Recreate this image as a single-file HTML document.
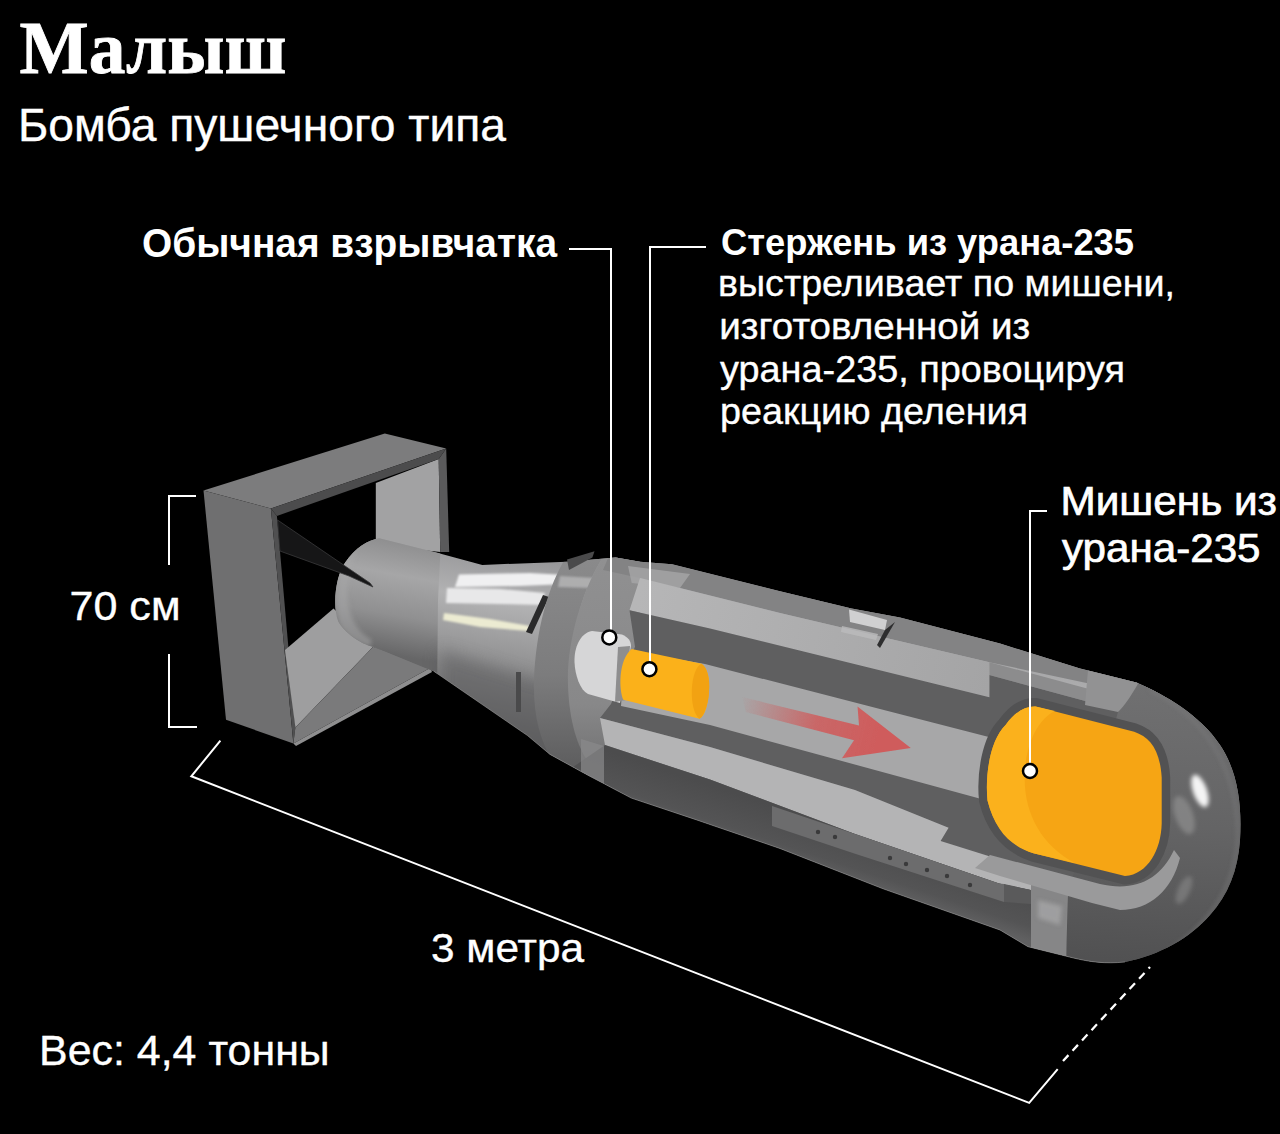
<!DOCTYPE html>
<html><head><meta charset="utf-8">
<style>
html,body{margin:0;padding:0;background:#000;width:1280px;height:1134px;overflow:hidden}
svg{display:block}
.t{font-family:"Liberation Sans",sans-serif;fill:#fff}
.s{font-family:"Liberation Serif",serif;fill:#fff}
</style></head><body>
<svg width="1280" height="1134" viewBox="0 0 1280 1134">
<defs>
  <linearGradient id="gCyl" gradientUnits="userSpaceOnUse" x1="385" y1="538" x2="365" y2="650">
    <stop offset="0" stop-color="#8e8e8f"/><stop offset="0.3" stop-color="#a6a6a7"/><stop offset="0.65" stop-color="#909091"/><stop offset="1" stop-color="#666667"/>
  </linearGradient>
  <linearGradient id="gCone" gradientUnits="userSpaceOnUse" x1="520" y1="558" x2="490" y2="740">
    <stop offset="0" stop-color="#98989a"/><stop offset="0.25" stop-color="#b2b2b3"/><stop offset="0.55" stop-color="#949495"/><stop offset="1" stop-color="#606061"/>
  </linearGradient>
  <linearGradient id="gNose" gradientUnits="userSpaceOnUse" x1="1140" y1="685" x2="1120" y2="960">
    <stop offset="0" stop-color="#707071"/><stop offset="0.5" stop-color="#646465"/><stop offset="1" stop-color="#515152"/>
  </linearGradient>
  <linearGradient id="gArrow" gradientUnits="userSpaceOnUse" x1="740" y1="700" x2="880" y2="735">
    <stop offset="0" stop-color="#cf5c5c" stop-opacity="0"/><stop offset="0.55" stop-color="#cf5c5c" stop-opacity="0.85"/><stop offset="1" stop-color="#cf5c5c"/>
  </linearGradient>
  <radialGradient id="gHi" cx="0.5" cy="0.5" r="0.5">
    <stop offset="0" stop-color="#ffffff"/><stop offset="0.6" stop-color="#e0e0e0"/><stop offset="1" stop-color="#909090" stop-opacity="0"/>
  </radialGradient>
  <linearGradient id="gCollar" gradientUnits="userSpaceOnUse" x1="0" y1="560" x2="0" y2="790">
    <stop offset="0" stop-color="#8a8a8b"/><stop offset="0.5" stop-color="#7c7c7d"/><stop offset="1" stop-color="#565657"/>
  </linearGradient>
  <linearGradient id="gRear" gradientUnits="userSpaceOnUse" x1="0" y1="560" x2="0" y2="800">
    <stop offset="0" stop-color="#909091"/><stop offset="0.6" stop-color="#888889"/><stop offset="1" stop-color="#666667"/>
  </linearGradient>
  <linearGradient id="gLight" gradientUnits="userSpaceOnUse" x1="640" y1="590" x2="990" y2="680">
    <stop offset="0" stop-color="#b6b6b7"/><stop offset="1" stop-color="#a4a4a5"/>
  </linearGradient>
  <linearGradient id="gBot" gradientUnits="userSpaceOnUse" x1="800" y1="815" x2="785" y2="860">
    <stop offset="0" stop-color="#4c4c4d"/><stop offset="0.7" stop-color="#545455"/><stop offset="1" stop-color="#606061"/>
  </linearGradient>
  <filter id="fb05" x="-10%" y="-20%" width="120%" height="140%"><feGaussianBlur stdDeviation="0.6"/></filter>
  <filter id="fb1" x="-20%" y="-50%" width="140%" height="200%"><feGaussianBlur stdDeviation="1.2"/></filter>
  <filter id="fb2" x="-50%" y="-50%" width="200%" height="200%"><feGaussianBlur stdDeviation="2"/></filter>
  <filter id="fb6" x="-50%" y="-50%" width="200%" height="200%"><feGaussianBlur stdDeviation="8"/></filter>
  <clipPath id="cBody">
    <path d="M379.2,538.3 L438,553 L482.3,564.9 L567,561.7 L615.7,557.5 L640,561.7 L672,564.2 L780,591.3 L851.6,608.4 L900,617.6 L1000,643.5 L1080,668.5 L1136.4,682.6 C1165,695 1200,715 1220,745 C1238,772 1242,805 1240,840 C1238,870 1228,895 1210,915 C1190,938 1160,955 1125,962 C1105,964 1090,962 1072.6,957.8 L1028,946.7 L1000,930 L883.1,888.8 L780,848.5 L696.9,820 L631.3,798.1 L587.5,775 L550,754.4 L527.5,735.6 L433.75,671.25 L423.75,667.5 L373.6,647 C360,644 344,632 338.3,621.6 C332,605 336,575 345.4,562.3 C355,548 368,540 379.2,538.3 Z"/>
  </clipPath>
</defs>
<rect width="1280" height="1134" fill="#000"/>

<!-- BOMB -->
<g id="bomb">
  <!-- tail box: back parts -->
  <polygon points="375.8,482.9 438.7,459 440.2,552 375.8,545" fill="#a2a2a3"/>
  <polygon points="438.7,459 446.2,448.5 449.2,552 440.2,552" fill="#5a5a5b"/>
  <polygon points="203.5,490.4 384.8,433.5 446.2,448.5 270.9,508.4" fill="#7c7c7d"/>
  <polygon points="270.9,508.4 446.2,448.5 438.7,459 276.9,515.9" fill="#4c4c4d"/>
  <polygon points="203.5,490.4 270.9,508.4 293.4,743.6 226,719.7" fill="#6f6f70"/>
  <polygon points="270.9,508.4 276.9,515.9 295.4,727.6 293.4,743.6" fill="#505051"/>
  <polygon points="285,650 333.5,608.6 373.2,646.7 295.4,727.6" fill="#9e9e9f"/>
  <polygon points="295.4,727.6 373.2,646.7 430,668 293.4,743.6" fill="#7a7a7b"/>
  <polygon points="293.4,743.6 430,668 432,672 296,746" fill="#8e8e8f"/>
  

  <g clip-path="url(#cBody)">
    <rect x="320" y="520" width="940" height="460" fill="url(#gCone)"/>
    <!-- tail cylinder -->
    <path d="M330,520 L442,520 L438,600 L437,700 L330,700 Z" fill="url(#gCyl)"/>
    <path d="M345,560 C337,580 334,605 340,625 C346,636 356,643 370,647 L372,640 C358,632 350,620 348,600 C347,585 350,570 356,552 Z" fill="#a8a8a9" opacity="0.5" filter="url(#fb2)"/>
    <!-- cone lower shade -->
    <polygon points="440,650 600,700 600,800 440,700" fill="#5a5a5b" opacity="0.55" filter="url(#fb6)"/>
    <!-- cone highlights -->
    <g filter="url(#fb1)">
    <path d="M459,574.5 L530,573 L566,575 L568,584 L520,586 L455,587 Z" fill="#f0f0f1"/>
    <path d="M447,588 L500,589 L545,593 L541,605 L500,604 L446,603 Z" fill="#e8e8e9"/>
    <path d="M444,613 L490,619 L530,626 L528,631 L480,627 L443,620 Z" fill="#ecebd2"/>
    </g>
    <path d="M543,595 L549,597 L532,634 L526,632 Z" fill="#2a2a2b"/>
    <path d="M516,672 L521,672 L521,712 L516,712 Z" fill="#4a4a4b"/>
    <!-- collar ring -->
    <path d="M567,556 C548,585 536,630 534,680 C533,715 540,740 552,760 L600,790 C580,760 570,720 570,680 C570,630 585,585 603,557 Z" fill="url(#gCollar)"/>
    <path d="M560,576 L596,578 L592,588 L558,587 Z" fill="#c8c8c9" opacity="0.6" filter="url(#fb1)"/>
    <!-- rear face -->
    <path d="M603,557 C585,585 570,630 568,670 C567,705 573,737 585,757 L606,786 L640,800 L640,550 Z" fill="url(#gRear)"/>
    <!-- top shell band -->
    <polygon points="615.7,540 1260,540 1260,720 989.4,662.2 780,613 640,578 603,570" fill="#838384"/>
    <polygon points="628,566 690,574 680,588 631.7,583" fill="#a6a6a7" opacity="0.8"/>
    <!-- light band (upper casing cut) -->
    <polygon points="640,578 780,613 989.4,662.2 989.4,697.2 710,628.5 629.5,610.3" fill="url(#gLight)"/>
    <!-- thin lighter strip right of step -->
    <polygon points="989.4,662.2 1100,692 1100,705 989.4,675" fill="#8c8c8d"/>
    <!-- dark region: barrel walls + housing -->
    <polygon points="629.5,610.3 710,628.5 989.4,697.2 989.4,675 1100,705 1180,725 1180,900 1100,885 999,856 940.6,841 948.6,827.8 855,790 710,747 600,718 611,704 635,646.8" fill="#5f5f60"/>
    <!-- cavity -->
    <polygon points="705,664 880,708.9 1020,745 1020,809.6 710,725 621,706 625,650" fill="#a7a7a8"/>
    <!-- lower light band -->
    <polygon points="600,718 710,747 855,790 948.6,827.8 940.6,841 1040,872 1040,892 999,883.6 855,834 710,779.6 605,745" fill="#b4b4b5"/>
    <!-- bottom shell -->
    <polygon points="605,745 710,779.6 855,834 999,883.6 1040,892 1110,905 1110,1000 560,1000 560,776" fill="url(#gBot)"/>
    <!-- rivet panel -->
    <polygon points="772,806 855,834 999,883.6 1004,884 1004,902 855,853.7 772,826" fill="#6c6c6d"/>
    <polygon points="1004,884 1031,890 1031,904 1004,902" fill="#5a5a5b"/>
    <!-- lower rear ring strip -->
    <polygon points="581,739 604,746 604,790 581,780" fill="#8a8a8b" opacity="0.7"/>
    <!-- rivets -->
    <g fill="#3a3a3b">
      <circle cx="818" cy="832" r="2.2"/><circle cx="835" cy="837" r="2.2"/>
      <circle cx="890" cy="858" r="2.2"/><circle cx="906" cy="864" r="2.2"/>
      <circle cx="927" cy="870" r="2.2"/><circle cx="947" cy="876" r="2.2"/><circle cx="970" cy="885" r="2.2"/>
    </g>
    <!-- nose shell -->
    <path d="M1140,670 L1260,670 L1260,1000 L1066,1000 L1068,894 L1118,712 Z" fill="url(#gNose)"/>
    <path d="M1150,690 C1200,715 1235,760 1238,830 C1238,880 1215,920 1170,950" fill="none" stroke="#808081" stroke-width="3" opacity="0.5" filter="url(#fb2)"/>
    <!-- ring band near nose -->
    <path d="M1088,670 L1140,680 C1132,695 1125,705 1118,712 L1085,705 Z" fill="#929293"/>
    <path d="M1031,884 L1068,894 L1066,960 L1031,950 Z" fill="#868687"/>
    <path d="M1038,900 L1062,906 L1060,925 L1038,918 Z" fill="#b0b0b1" opacity="0.6" filter="url(#fb2)"/>
    <!-- light band continuing under housing -->
    <path d="M990,855 L1100,884 C1135,892 1160,880 1174,850 L1180,858 C1172,890 1150,910 1120,910 L1092,903 L1000,876 L975,868 Z" fill="#9a9a9b"/>
  </g>

  <!-- bottom rim light -->
  <path d="M433.75,671.25 L527.5,735.6 L550,754.4 L587.5,775 L631.3,798.1 L696.9,820 L780,848.5 L883.1,888.8 L1000,930 L1028,946.7 L1072.6,957.8 C1090,962 1105,964 1125,962" fill="none" stroke="#9a9a9b" stroke-width="1" opacity="0.55"/>
  <polygon points="842,626 878,634 876,640 841,632" fill="#bcbcbd" opacity="0.8"/>
  <!-- strut -->
  <polygon points="277.5,520 370,583 373,587 349,576 279.9,551" fill="#161617" stroke="#3a3a3b" stroke-width="0.8"/>
  <!-- nose highlights -->
  <g filter="url(#fb2)">
  <ellipse cx="1200" cy="791" rx="7" ry="17" transform="rotate(-20 1200 791)" fill="#f4f4f4"/>
  <ellipse cx="1184" cy="815" rx="9" ry="20" transform="rotate(-20 1184 815)" fill="#8e8e8f" opacity="0.7"/>
  <ellipse cx="1184" cy="890" rx="6" ry="15" transform="rotate(25 1184 890)" fill="#888889" opacity="0.6"/>
  </g>

  <!-- housing frame + orange target -->
  <path d="M1035.6,706.5 L1134.2,731.7 C1150,737 1160,750 1161.7,777.5 L1161.7,823.4 C1161,850 1148,874 1125,876.1 L1033.4,853.2 C1012,846 995,830 987.5,800.5 C985,775 990,740 1005.8,724.8 C1015,712 1025,706 1035.6,706.5 Z" fill="#f6a514" stroke="#525253" stroke-width="17" stroke-linejoin="round"/>
  <path d="M1035.6,706.5 L1134.2,731.7 C1150,737 1160,750 1161.7,777.5 L1161.7,823.4 C1161,850 1148,874 1125,876.1 L1033.4,853.2 C1012,846 995,830 987.5,800.5 C985,775 990,740 1005.8,724.8 C1015,712 1025,706 1035.6,706.5 Z" fill="#f6a514"/>
  <path d="M1035.6,706.5 C1025,706 1015,712 1005.8,724.8 C990,740 985,775 987.5,800.5 C995,830 1010,846 1033.4,853.2 L1075,863 C1040,845 1022,810 1025,770 C1027,740 1040,718 1055,711 Z" fill="#fbb11c"/>

  <!-- white explosive -->
  <path d="M592,631 L622,634.5 C628,637 631,641 631,646 L620,703 L588,694 C580,690 575,675 574.5,662 C574,648 580,633 592,631 Z" fill="#d6d6d7"/>
  <path d="M618,647 L630,646 L626,700 L615,702 Z" fill="#8e8e8f"/>
  <!-- projectile -->
  <path d="M631.7,648.9 L701.6,663.7 C708,668 710,680 709,691.2 C708,705 705,716 699.5,718.7 L623.3,699.7 C619,690 618,660 631.7,648.9 Z" fill="#fbb11a"/>
  <path d="M701.6,663.7 C690,668 688,710 699.5,718.7 C705,716 709,700 709,691.2 C710,680 708,668 701.6,663.7 Z" fill="#f2a212"/>

  <!-- arrow -->
  <polygon points="742,697 859,725.5 857.5,706.6 910.8,747.9 842,758.2 854,740.2 746,712" fill="url(#gArrow)" filter="url(#fb05)"/>
  <!-- clip on top -->
  <polygon points="849,609.6 887,620 885,630 850,622" fill="#d0d0d1"/>
  <polygon points="885,630 895,622 880,648 877,645" fill="#2e2e2f"/>
  <!-- top fin on cone -->
  <polygon points="567,559.6 594.5,551.2 592.4,557.5 569,570" fill="#4a4a4b"/>
</g>

<!-- lines -->
<g fill="none" stroke="#fff" stroke-width="2">
  <polyline points="569,249 611,249 611,637"/>
  <polyline points="706,247 650,247 650,669"/>
  <polyline points="1047,511 1030,511 1030,771"/>
  <polyline points="196,496 169,496 169,565"/>
  <polyline points="169,654 169,727 197,727"/>
  <polyline points="220.4,740.6 191.3,776.3 1029.2,1102.9 1057.7,1069.2"/>
  <line x1="1063" y1="1061" x2="1150" y2="967" stroke-dasharray="8,6" stroke-width="2.3"/>
</g>
<g fill="#fff" stroke="#000" stroke-width="2.5">
  <circle cx="609.3" cy="637.4" r="7"/>
  <circle cx="649.4" cy="669.2" r="7"/>
  <circle cx="1030" cy="771" r="7"/>
</g>

<!-- text -->
<text class="s" stroke="#fff" stroke-width="0.8" x="19.5" y="72.6" font-size="73.5" font-weight="bold" textLength="267" lengthAdjust="spacingAndGlyphs">Малыш</text>
<text class="t" stroke="#fff" stroke-width="0.35" x="18" y="140.6" font-size="46" textLength="488" lengthAdjust="spacingAndGlyphs">Бомба пушечного типа</text>
<text class="t" x="142" y="256.5" font-size="40" font-weight="bold" textLength="415" lengthAdjust="spacingAndGlyphs">Обычная взрывчатка</text>
<text class="t" x="721" y="255" font-size="37" font-weight="bold" textLength="413" lengthAdjust="spacingAndGlyphs">Стержень из урана-235</text>
<text class="t" stroke="#fff" stroke-width="0.35" x="718" y="296" font-size="36" textLength="457" lengthAdjust="spacingAndGlyphs">выстреливает по мишени,</text>
<text class="t" stroke="#fff" stroke-width="0.35" x="719.3" y="339" font-size="36" textLength="311" lengthAdjust="spacingAndGlyphs">изготовленной из</text>
<text class="t" stroke="#fff" stroke-width="0.35" x="720" y="381.5" font-size="36" textLength="405" lengthAdjust="spacingAndGlyphs">урана-235, провоцируя</text>
<text class="t" stroke="#fff" stroke-width="0.35" x="720" y="424" font-size="36" textLength="308" lengthAdjust="spacingAndGlyphs">реакцию деления</text>
<text class="t" stroke="#fff" stroke-width="0.7" x="1060.5" y="514.75" font-size="40" textLength="216.5" lengthAdjust="spacingAndGlyphs">Мишень из</text>
<text class="t" stroke="#fff" stroke-width="0.7" x="1062" y="562.2" font-size="40" textLength="198.5" lengthAdjust="spacingAndGlyphs">урана-235</text>
<text class="t" stroke="#fff" stroke-width="0.35" x="69.5" y="620.3" font-size="40" textLength="111" lengthAdjust="spacingAndGlyphs">70 см</text>
<text class="t" stroke="#fff" stroke-width="0.35" x="431" y="962.2" font-size="40" textLength="153" lengthAdjust="spacingAndGlyphs">3 метра</text>
<text class="t" stroke="#fff" stroke-width="0.35" x="39" y="1064.8" font-size="42" textLength="290.7" lengthAdjust="spacingAndGlyphs">Вес: 4,4 тонны</text>
</svg>
</body></html>
